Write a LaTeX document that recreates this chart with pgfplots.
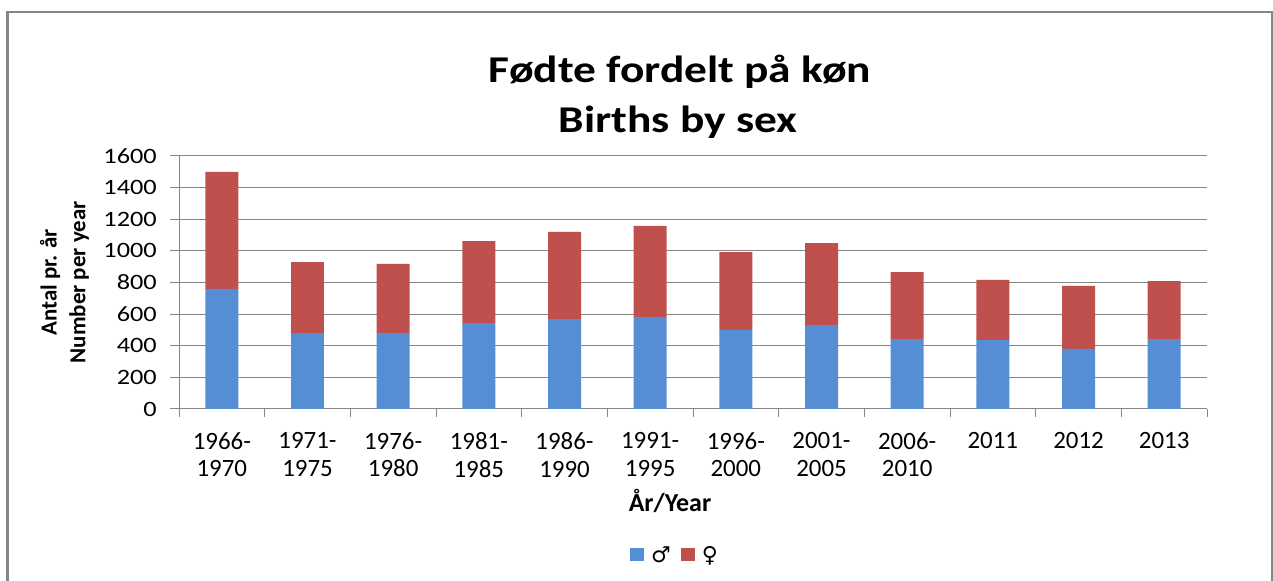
\documentclass[border=0pt]{standalone}
\usepackage{fontspec}
\usepackage{pgfplots}
\pgfplotsset{compat=1.18}
\usepackage{pgfplotstable}
\setmainfont{Carlito}
\newfontfamily\titlefont[FakeStretch=1.2]{Carlito}
\newfontfamily\ytickfont[FakeStretch=1.2]{Carlito}
\newfontfamily\symfont{DejaVu Sans}
\definecolor{mblue}{HTML}{558ED5}
\definecolor{fred}{HTML}{C0504D}
\definecolor{gridgray}{HTML}{868686}

\pgfplotstableread{
x m f
0 758 739
1 480 448
2 480 436
3 543 518
4 568 550
5 581 575
6 499 492
7 530 518
8 442 423
9 436 379
10 379 398
11 442 366
}\births

\begin{document}
\begin{tikzpicture}[x=1bp,y=1bp]
\path[use as bounding box] (0,0) rectangle (1273,581);
% outer frame
\draw[gridgray,line width=1.3bp] (7.5,0) -- (7.5,569) -- (1272,569) -- (1272,0);
\draw[gridgray,line width=2.7bp] (7.5,0) -- (7.5,569.6);
% title
\node[anchor=base] at (680,498) {\titlefont\bfseries\fontsize{38}{42}\selectfont Fødte fordelt på køn};
\node[anchor=base] at (678,448) {\titlefont\bfseries\fontsize{38}{42}\selectfont Births by sex};
\begin{axis}[
  at={(179bp,172bp)}, anchor=south west,
  scale only axis, width=1028bp, height=253.3bp,
  ybar stacked, bar width=0.385,
  xmin=-0.5, xmax=11.5, ymin=0, ymax=1600,
  enlargelimits=false,
  axis lines*=left,
  axis line style={gridgray, line width=1bp},
  ytick={0,200,...,1600},
  xtick={0,...,11},
  xticklabels={{1966-\\1970},{1971-\\1975},{1976-\\1980},{1981-\\1985},{1986-\\1990},{1991-\\1995},{1996-\\2000},{2001-\\2005},{2006-\\2010},{2011},{2012},{2013}},
  minor xtick={-0.5,0.5,...,11.5},
  tick align=outside,
  major tick length=9bp, minor tick length=8bp,
  every major x tick/.append style={draw=none},
  tick style={gridgray, line width=1bp},
  ymajorgrids, grid style={gridgray, line width=1bp},
  /pgf/number format/assume math mode=true,
  /pgf/number format/1000 sep={},
  yticklabel style={font=\ytickfont\fontsize{22}{26}\selectfont, anchor=east, inner sep=0pt, xshift=-13bp},
  xticklabel style={font=\fontsize{25}{28}\selectfont, align=center, anchor=north, inner sep=0pt, yshift=-14bp},
  xlabel={År/Year},
  xlabel style={font=\bfseries\fontsize{26}{28}\selectfont, at={(axis description cs:0.4776,-0.3632)}, anchor=center},
  ylabel={Antal pr. år\\Number per year},
  ylabel style={font=\bfseries\fontsize{23}{29}\selectfont, align=center, at={(axis description cs:-0.1114,0.5)}, anchor=center},
  legend columns=2,
  legend style={draw=none, fill=none, at={(axis description cs:0.4825,-0.576)}, anchor=center,
    font=\symfont\fontsize{22}{24}\selectfont,
    /tikz/every odd column/.append style={column sep=5bp},
    /tikz/every even column/.append style={column sep=8bp}},
  legend image code/.code={\fill[#1] (0bp,-6.5bp) rectangle (14bp,6.5bp);},
]
\addplot[fill=mblue, draw=none] table[x=x,y=m]{\births};
\addplot[fill=fred, draw=none] table[x=x,y=f]{\births};
\legend{♂,♀}
\end{axis}
\end{tikzpicture}
\end{document}
